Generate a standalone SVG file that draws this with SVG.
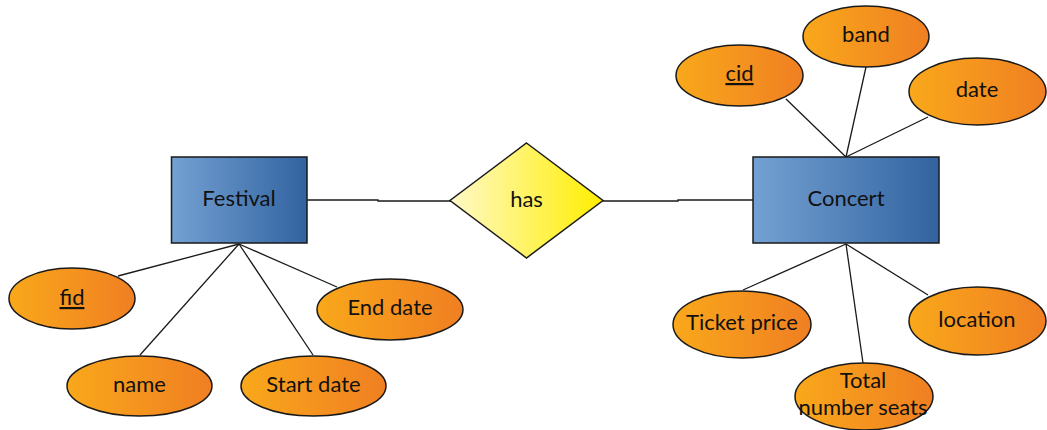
<svg xmlns="http://www.w3.org/2000/svg" width="1047" height="430" viewBox="0 0 1047 430">
<defs>
<linearGradient id="gOrange" x1="0" y1="0" x2="1" y2="0">
<stop offset="0" stop-color="#f9a81b"/>
<stop offset="1" stop-color="#f07f22"/>
</linearGradient>
<linearGradient id="gBlue" x1="0" y1="0" x2="1" y2="0">
<stop offset="0" stop-color="#74a1d3"/>
<stop offset="1" stop-color="#3263a0"/>
</linearGradient>
<linearGradient id="gYellow" x1="0" y1="0" x2="1" y2="0">
<stop offset="0" stop-color="#fff9c8"/>
<stop offset="1" stop-color="#ffee00"/>
</linearGradient>
</defs>
<style>
.attr{fill:url(#gOrange);stroke:#1a1a1a;stroke-width:1.5}
.ent{fill:url(#gBlue);stroke:#1a1a1a;stroke-width:1.5}
.rel{fill:url(#gYellow);stroke:#1a1a1a;stroke-width:1.5}
.lbl{font-family:Lato,"Liberation Sans",sans-serif;font-size:22px;fill:#111111;text-anchor:middle}
.u{text-decoration:underline}
#connectors path{fill:none;stroke:#1a1a1a;stroke-width:1.3}
</style>
<g id="connectors">
<path d="M239,244 L118,276"/>
<path d="M239,244 L140,355"/>
<path d="M239,244 L313,355"/>
<path d="M239,244 L337,287"/>
<path d="M307,200 L378,200 L378,201 L451,201"/>
<path d="M603,201 L678,201 L678,200 L753,200"/>
<path d="M846,157 L786,99"/>
<path d="M846,157 L866,67"/>
<path d="M846,157 L928,117"/>
<path d="M846,244 L743,290"/>
<path d="M846,244 L863,363"/>
<path d="M846,244 L928,295"/>
</g>
<g id="festival">
<rect class="ent" x="171.5" y="157" width="135.5" height="86"/>
<text class="lbl" x="239" y="206">Festival</text>
</g>
<g id="concert">
<rect class="ent" x="753" y="157" width="186" height="86"/>
<text class="lbl" x="846" y="206">Concert</text>
</g>
<g id="has">
<polygon class="rel" points="526.5,143 603,200.5 526.5,258 450,200.5"/>
<text class="lbl" x="526.5" y="207">has</text>
</g>
<g id="fid">
<ellipse class="attr" cx="72" cy="298.5" rx="63" ry="30.5"/>
<text class="lbl u" x="72" y="305">fid</text>
</g>
<g id="name">
<ellipse class="attr" cx="139.5" cy="386" rx="72.5" ry="30"/>
<text class="lbl" x="139.5" y="392">name</text>
</g>
<g id="startdate">
<ellipse class="attr" cx="313.5" cy="386" rx="72.5" ry="30"/>
<text class="lbl" x="313.5" y="392">Start date</text>
</g>
<g id="enddate">
<ellipse class="attr" cx="390" cy="309.5" rx="73" ry="30.5"/>
<text class="lbl" x="390" y="315">End date</text>
</g>
<g id="cid">
<ellipse class="attr" cx="739.5" cy="75.5" rx="63.5" ry="30.5"/>
<text class="lbl u" x="739.5" y="81">cid</text>
</g>
<g id="band">
<ellipse class="attr" cx="866" cy="36.5" rx="63" ry="30.5"/>
<text class="lbl" x="866" y="42">band</text>
</g>
<g id="date">
<ellipse class="attr" cx="977.5" cy="91.5" rx="68.5" ry="33.5"/>
<text class="lbl" x="977" y="97">date</text>
</g>
<g id="ticketprice">
<ellipse class="attr" cx="742" cy="324.5" rx="69" ry="33.5"/>
<text class="lbl" x="742" y="330">Ticket price</text>
</g>
<g id="location">
<ellipse class="attr" cx="977.5" cy="321" rx="68.5" ry="34"/>
<text class="lbl" x="977" y="327">location</text>
</g>
<g id="totalseats">
<ellipse class="attr" cx="864" cy="396.5" rx="69" ry="33.5"/>
<text class="lbl" x="863" y="388">Total</text>
<text class="lbl" x="863" y="415">number seats</text>
</g>
</svg>
